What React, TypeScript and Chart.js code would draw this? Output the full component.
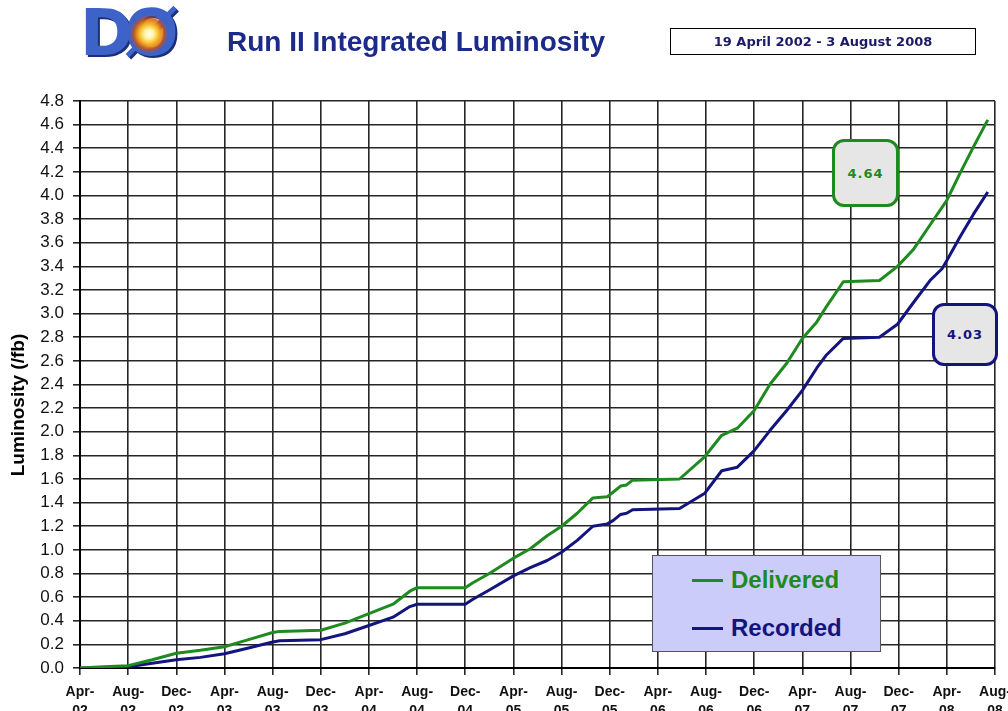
import React, { useEffect, useRef } from "react";
import { Chart, registerables } from "chart.js";

Chart.register(...registerables);

// x position in months since April 2002
const months = [
  0, 2, 4, 6, 8, 10, 12, 14, 16, 16.6,
  20, 22, 24, 26, 27.4, 28, 32, 32.6, 34, 36,
  37.4, 38.8, 40, 41.3, 42.6, 43.8, 44.3, 44.9, 45.4, 45.9,
  49.8, 51.9, 53.3, 54.6, 56, 57.3, 58.7, 60, 61.2, 62,
  63.4, 66.4, 67.9, 69.2, 70.6, 71.6, 72, 73.1, 74.2, 75.4,
];

const delivered = [
  0, 0.01, 0.02, 0.07, 0.125, 0.15, 0.18, 0.24, 0.3, 0.31,
  0.32, 0.38, 0.46, 0.54, 0.65, 0.68, 0.68, 0.72, 0.8, 0.93,
  1.01, 1.12, 1.2, 1.31, 1.44, 1.45, 1.49, 1.54, 1.55, 1.59,
  1.6, 1.79, 1.97, 2.03, 2.18, 2.4, 2.58, 2.79, 2.93, 3.06,
  3.27, 3.28, 3.4, 3.54, 3.75, 3.9, 3.96, 4.19, 4.41, 4.64,
];

const recorded = [
  0, 0.005, 0.01, 0.04, 0.07, 0.09, 0.12, 0.17, 0.22, 0.23,
  0.24, 0.29, 0.36, 0.43, 0.52, 0.54, 0.54, 0.58, 0.66, 0.78,
  0.85, 0.91, 0.98, 1.08, 1.2, 1.22, 1.25, 1.3, 1.31, 1.34,
  1.35, 1.48, 1.67, 1.7, 1.84, 2.01, 2.18, 2.35, 2.54, 2.65,
  2.79, 2.8, 2.91, 3.09, 3.28, 3.38, 3.45, 3.65, 3.84, 4.03,
];

const tickLabels = [
  "Apr-02", "Aug-02", "Dec-02", "Apr-03", "Aug-03", "Dec-03", "Apr-04",
  "Aug-04", "Dec-04", "Apr-05", "Aug-05", "Dec-05", "Apr-06", "Aug-06",
  "Dec-06", "Apr-07", "Aug-07", "Dec-07", "Apr-08", "Aug-08",
];

const seriesNames = ["Delivered", "Recorded"];
const finalValues = ["4.64", "4.03"];

const GREEN = "#1f8a1f";
const NAVY = "#14147e";
const FONT = '"Liberation Sans", Arial, sans-serif';

export default function App() {
  const ref = useRef<HTMLCanvasElement>(null);

  useEffect(() => {
    const chart = new Chart(ref.current!, {
      type: "line",
      data: {
        datasets: [
          {
            label: seriesNames[0],
            data: months.map((m, i) => ({ x: m, y: delivered[i] })),
            borderColor: GREEN,
            borderWidth: 3,
            pointRadius: 0,
            tension: 0,
            borderJoinStyle: "round",
          },
          {
            label: seriesNames[1],
            data: months.map((m, i) => ({ x: m, y: recorded[i] })),
            borderColor: NAVY,
            borderWidth: 3,
            pointRadius: 0,
            tension: 0,
            borderJoinStyle: "round",
          },
        ],
      },
      options: {
        responsive: false,
        animation: false,
        layout: { padding: { top: 101, right: 13, left: 0, bottom: 0 } },
        plugins: { legend: { display: false }, tooltip: { enabled: false } },
        scales: {
          x: {
            type: "linear",
            min: 0,
            max: 76,
            afterFit: (s: any) => {
              s.height = 43;
              s.paddingLeft = 0;
              s.paddingRight = 0;
            },
            ticks: {
              stepSize: 4,
              autoSkip: false,
              maxRotation: 0,
              padding: 7,
              color: "#111",
              font: { family: FONT, size: 14, weight: "bold", lineHeight: 1.4 },
              callback: (v: any) => {
                const l = tickLabels[Math.round(Number(v) / 4)];
                if (!l) return "";
                const [m, y] = l.split("-");
                return [m + "-", y];
              },
            },
            grid: { color: "#262626", lineWidth: 1.6, tickLength: 7 },
            border: { color: "#000", width: 2 },
          },
          y: {
            min: 0,
            max: 4.8,
            afterFit: (s: any) => {
              s.width = 80;
            },
            ticks: {
              stepSize: 0.2,
              padding: 9,
              color: "#111",
              font: { family: FONT, size: 17 },
              callback: (v: any) => Number(v).toFixed(1),
            },
            grid: { color: "#262626", lineWidth: 1.6, tickLength: 7 },
            border: { color: "#000", width: 2 },
          },
        },
      },
    });
    return () => chart.destroy();
  }, []);

  return (
    <div
      style={{
        position: "absolute",
        left: 0,
        top: 0,
        width: 1008,
        height: 711,
        overflow: "hidden",
        background: "#fff",
        fontFamily: FONT,
      }}
    >
      <canvas
        ref={ref}
        width={1008}
        height={711}
        style={{ position: "absolute", left: 0, top: 0 }}
      />

      {/* Y axis title */}
      <div
        style={{
          position: "absolute",
          left: 18 - 100,
          top: 405 - 12,
          width: 200,
          height: 24,
          lineHeight: "24px",
          textAlign: "center",
          transform: "rotate(-90deg)",
          fontSize: 19,
          fontWeight: "bold",
          color: "#000",
          whiteSpace: "nowrap",
        }}
      >
        Luminosity (/fb)
      </div>

      {/* Logo */}
      <div style={{ position: "absolute", left: 80, top: 2, width: 106, height: 62 }}>
        <div
          style={{
            position: "absolute",
            left: 0,
            top: 0,
            fontFamily: '"DejaVu Sans", sans-serif',
            fontWeight: "bold",
            fontSize: 64,
            lineHeight: "62px",
            letterSpacing: -9,
            color: "#3d62c8",
            textShadow: "2px 2px 0 #1b2f7a",
            whiteSpace: "nowrap",
          }}
        >
          DØ
        </div>
        <div
          style={{
            position: "absolute",
            left: 50,
            top: 13,
            width: 38,
            height: 38,
            borderRadius: "50%",
            background:
              "radial-gradient(circle, #ffffff 0%, #fff3a0 18%, #f7b21c 38%, rgba(200,80,20,0.8) 58%, rgba(200,80,20,0) 72%)",
          }}
        />
      </div>

      {/* Title */}
      <div
        style={{
          position: "absolute",
          left: 227,
          top: 26,
          fontSize: 28,
          lineHeight: "32px",
          fontWeight: "bold",
          color: "#1c2a8a",
          whiteSpace: "nowrap",
        }}
      >
        Run II Integrated Luminosity
      </div>

      {/* Date box */}
      <div
        style={{
          position: "absolute",
          left: 670,
          top: 28,
          width: 306,
          height: 27,
          boxSizing: "border-box",
          border: "1.5px solid #000",
          display: "flex",
          alignItems: "center",
          justifyContent: "center",
          fontFamily: '"DejaVu Sans", sans-serif',
          fontWeight: "bold",
          fontSize: 13,
          color: "#1a1a66",
          whiteSpace: "nowrap",
        }}
      >
        19 April 2002 - 3 August 2008
      </div>

      {/* Final value callouts */}
      <div
        style={{
          position: "absolute",
          left: 832,
          top: 139,
          width: 67,
          height: 68,
          boxSizing: "border-box",
          border: `3px solid ${GREEN}`,
          borderRadius: 12,
          background: "#e6e6e6",
          display: "flex",
          alignItems: "center",
          justifyContent: "center",
          fontFamily: '"DejaVu Sans", sans-serif',
          fontWeight: "bold",
          fontSize: 13,
          letterSpacing: 1,
          color: GREEN,
        }}
      >
        {finalValues[0]}
      </div>
      <div
        style={{
          position: "absolute",
          left: 932,
          top: 303,
          width: 66,
          height: 63,
          boxSizing: "border-box",
          border: `3px solid ${NAVY}`,
          borderRadius: 12,
          background: "#e6e6e6",
          display: "flex",
          alignItems: "center",
          justifyContent: "center",
          fontFamily: '"DejaVu Sans", sans-serif',
          fontWeight: "bold",
          fontSize: 13,
          letterSpacing: 1,
          color: NAVY,
        }}
      >
        {finalValues[1]}
      </div>

      {/* Legend */}
      <div
        style={{
          position: "absolute",
          left: 652,
          top: 555,
          width: 229,
          height: 97,
          boxSizing: "border-box",
          border: "1.5px solid #555",
          background: "#ccccfa",
        }}
      />
      <div style={{ position: "absolute", left: 692, top: 579, width: 31, height: 3, background: GREEN }} />
      <div
        style={{
          position: "absolute",
          left: 731,
          top: 568,
          fontSize: 24,
          lineHeight: "24px",
          fontWeight: "bold",
          color: GREEN,
          whiteSpace: "nowrap",
        }}
      >
        {seriesNames[0]}
      </div>
      <div style={{ position: "absolute", left: 692, top: 627, width: 31, height: 3, background: NAVY }} />
      <div
        style={{
          position: "absolute",
          left: 731,
          top: 616,
          fontSize: 24,
          lineHeight: "24px",
          fontWeight: "bold",
          color: NAVY,
          whiteSpace: "nowrap",
        }}
      >
        {seriesNames[1]}
      </div>
    </div>
  );
}
